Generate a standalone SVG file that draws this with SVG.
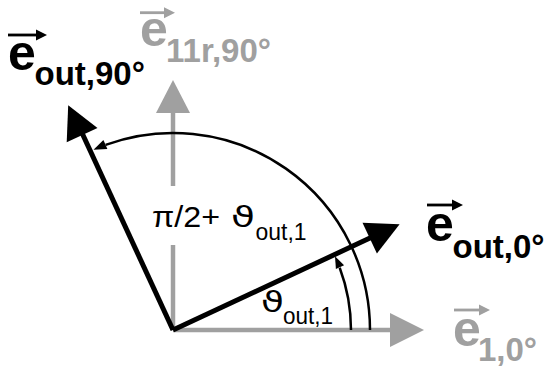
<svg xmlns="http://www.w3.org/2000/svg" width="546" height="367" viewBox="0 0 546 367">
<style>
.g{fill:#a0a0a0}
.gs{stroke:#a0a0a0;stroke-width:4.5;fill:none}
.bs{stroke:#000;stroke-width:5;fill:none}
.arc{stroke:#000;stroke-width:2.5;fill:none}
.ev{font-family:"Liberation Sans",Arial,sans-serif;font-weight:bold}
.lbl{font-family:"Liberation Sans",Arial,sans-serif}
.th{font-family:"DejaVu Sans","Liberation Sans",sans-serif}
.va{stroke-width:2.8}
</style>
<rect width="546" height="367" fill="#fff"/>
<g id="connectors">
  <g id="axis-x">
    <line class="gs" x1="173" y1="330" x2="391" y2="330"/>
    <polygon class="g" points="424,330 390,313 390,347"/>
  </g>
  <g id="axis-y">
    <line class="gs" x1="173" y1="330" x2="173" y2="245"/>
    <line class="gs" x1="173" y1="186" x2="173" y2="112"/>
    <polygon class="g" points="173,80 156,113 190,113"/>
  </g>
  <g id="out0">
    <line class="bs" x1="173" y1="330" x2="370.5" y2="237.8"/>
    <polygon points="399.6,224.3 376.9,253.6 362.5,222.8"/>
  </g>
  <g id="out90">
    <line class="bs" x1="173" y1="330" x2="82.5" y2="134"/>
    <polygon points="68.2,105.2 97.5,127.9 66.7,142.3"/>
  </g>
  <g id="arc-big">
    <path class="arc" d="M370 330 A197 197 0 0 0 105.6 144.9"/>
    <polygon points="93.5,149.7 107.4,149.1 103.4,139.9"/>
  </g>
  <g id="arc-small">
    <path class="arc" d="M351 330 A178 178 0 0 0 339.7 267.7"/>
    <polygon points="335,256.2 344.1,265.2 335.9,269"/>
  </g>
</g>
<g id="label-out90">
  <line x1="8" y1="35" x2="38" y2="35" stroke="#000" class="va"/>
  <polygon points="47,35 36,29.5 36,40.5"/>
  <text class="ev" x="8" y="69.5" font-size="50">e</text>
  <text class="ev" x="34.5" y="85" font-size="33">out,90°</text>
</g>
<g id="label-11r90" class="g">
  <line x1="140" y1="12.7" x2="166" y2="12.7" stroke="#a0a0a0" class="va"/>
  <polygon points="175,12.7 164,7.2 164,18.2"/>
  <text class="ev" x="140" y="46" font-size="50">e</text>
  <text class="ev" x="166" y="61.7" font-size="33">11r,90°</text>
</g>
<g id="label-out0">
  <line x1="427" y1="205" x2="454" y2="205" stroke="#000" class="va"/>
  <polygon points="463,205 452,199.5 452,210.5"/>
  <text class="ev" x="426" y="241" font-size="50">e</text>
  <text class="ev" x="452.5" y="258.3" font-size="33">out,0°</text>
</g>
<g id="label-10" class="g">
  <line x1="454" y1="310" x2="481" y2="310" stroke="#a0a0a0" class="va"/>
  <polygon points="490,310 479,304.5 479,315.5"/>
  <text class="ev" x="453" y="346" font-size="50">e</text>
  <text class="ev" x="478" y="361" font-size="33">1,0°</text>
</g>
<g id="label-angle-big">
  <text class="lbl" x="152" y="227" font-size="29" textLength="68" lengthAdjust="spacingAndGlyphs">π/2+</text>
  <text class="th" x="231" y="227" font-size="29" textLength="24" lengthAdjust="spacingAndGlyphs">ϑ</text>
  <text class="lbl" x="255.5" y="240" font-size="23" textLength="51" lengthAdjust="spacingAndGlyphs">out,1</text>
</g>
<g id="label-angle-small">
  <text class="th" x="261" y="312" font-size="29" textLength="23" lengthAdjust="spacingAndGlyphs">ϑ</text>
  <text class="lbl" x="283" y="323.5" font-size="23" textLength="50" lengthAdjust="spacingAndGlyphs">out,1</text>
</g>
</svg>
